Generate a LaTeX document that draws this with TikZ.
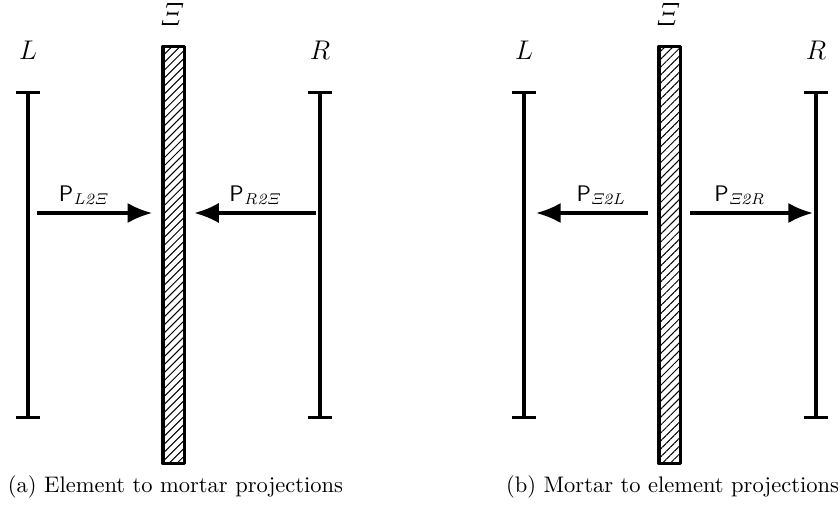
\documentclass[tikz,border=0pt]{standalone}
\usetikzlibrary{arrows.meta,patterns.meta}
\begin{document}
\begin{tikzpicture}[x=0.4444pt, y=-0.4444pt, line join=round, >={Latex[length=11pt,width=9pt]},
	elem/.style={line width=1.4pt, {Bar[width=10.7pt]}-{Bar[width=10.7pt]}},
	mortar/.style={draw, line width=1.5pt, pattern={Lines[angle=45,distance=2.5pt,line width=0.45pt]},
		inner sep=0pt, minimum width=9.6pt, minimum height=185.3pt},
	proj/.style={->, line width=1.6pt},
	plabel/.style={font=\normalsize}]
	\useasboundingbox (0,0) rectangle (840,505);
	\foreach \n/\dx in {a/0,b/496}{
		\path
		(28+\dx,91) coordinate (L\n t)
		(28+\dx,419) coordinate (L\n b)
		(28+\dx,213) coordinate (L\n m)
		(320+\dx,91) coordinate (R\n t)
		(320+\dx,419) coordinate (R\n b)
		(320+\dx,213) coordinate (R\n m)
		;
		\node[mortar] (X\n) at (173.75+\dx,255) {};
		\draw[elem] (L\n t)--(L\n b);
		\draw[elem] (R\n t)--(R\n b);
		\node[font=\large] (L\n) at (28+\dx,50) {$L$};
		\node[font=\large] (R\n) at (320+\dx,50) {$R$};
		\node[font=\Large] (Xi\n) at (172.5+\dx,14) {$\mathit{\Xi}$};
	}
	% (a) element to mortar
	\draw[proj, shorten <=4pt, shorten >=4.5pt] (Lam) -- (Lam -| Xa.west);
	\draw[proj, shorten <=1.8pt, shorten >=4pt] (Ram) -- (Ram -| Xa.east);
	\node[plabel] (PLa) at (84.5,195) {$\mathsf{P}_{\mathit{L2\Xi}}$};
	\node[plabel] (PRa) at (256,195) {$\mathsf{P}_{\mathit{R2\Xi}}$};
	% (b) mortar to element
	\draw[proj, shorten <=4pt, shorten >=5.3pt] (Lbm -| Xb.west) -- (Lbm);
	\draw[proj, shorten <=3.5pt, shorten >=1.3pt] (Rbm -| Xb.east) -- (Rbm);
	\node[plabel] (PLb) at (601,195) {$\mathsf{P}_{\mathit{\Xi 2L}}$};
	\node[plabel] (PRb) at (740,195) {$\mathsf{P}_{\mathit{\Xi 2R}}$};
	% captions
	\node (capa) at (175.5,487) {(a) Element to mortar projections};
	\node (capb) at (672.5,487) {(b) Mortar to element projections};
\end{tikzpicture}
\end{document}
